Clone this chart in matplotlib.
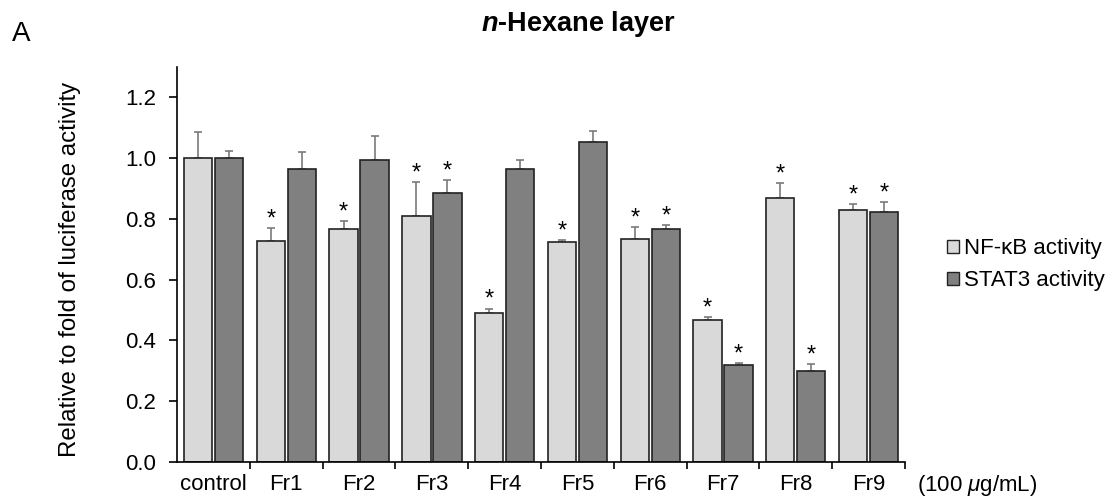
import numpy as np
import matplotlib.pyplot as plt
from matplotlib.patches import Patch

plt.rcParams['font.family'] = ['Liberation Sans', 'DejaVu Sans']
plt.rcParams['mathtext.fontset'] = 'custom'
plt.rcParams['mathtext.rm'] = 'Liberation Sans'
plt.rcParams['mathtext.it'] = 'Liberation Sans:italic'
plt.rcParams['mathtext.bf'] = 'Liberation Sans:bold'
plt.rcParams['mathtext.bfit'] = 'Liberation Sans:italic:bold'

# ── Data ──────────────────────────────────────────────────────────────────────
groups = ['control', 'Fr1', 'Fr2', 'Fr3', 'Fr4', 'Fr5', 'Fr6', 'Fr7', 'Fr8', 'Fr9']
nfkb = [1.00, 0.726, 0.766, 0.810, 0.491, 0.724, 0.734, 0.467, 0.870, 0.828]
nfkb_err = [0.086, 0.044, 0.028, 0.110, 0.014, 0.006, 0.039, 0.010, 0.047, 0.022]
stat3 = [1.00, 0.964, 0.995, 0.886, 0.963, 1.053, 0.766, 0.319, 0.301, 0.823]
stat3_err = [0.023, 0.055, 0.077, 0.043, 0.030, 0.037, 0.015, 0.008, 0.022, 0.033]
nfkb_sig = [False, True, True, True, True, True, True, True, True, True]
stat3_sig = [False, False, False, True, False, False, True, True, True, True]

# ── Plotting ──────────────────────────────────────────────────────────────────
fig = plt.figure(figsize=(11.07, 4.98), dpi=100)
ax = fig.add_axes([0.160, 0.0723, 0.6575, 0.7932])

x = np.arange(len(groups))
w = 0.39
off = 0.213
edge = '#222222'

ax.bar(x - off, nfkb, w, color='#d9d9d9', edgecolor=edge, linewidth=1.2, zorder=2)
ax.bar(x + off, stat3, w, color='#808080', edgecolor=edge, linewidth=1.2, zorder=2)

# upper error bars only
ax.errorbar(x - off, nfkb, yerr=[np.zeros(len(nfkb)), nfkb_err], fmt='none',
            ecolor='#7a7a7a', elinewidth=1.2, capsize=3, capthick=1.2, zorder=1)
ax.errorbar(x + off, stat3, yerr=[np.zeros(len(stat3)), stat3_err], fmt='none',
            ecolor='#7a7a7a', elinewidth=1.2, capsize=3, capthick=1.2, zorder=1)

for i in range(len(groups)):
    if nfkb_sig[i]:
        ax.text(x[i] - off, nfkb[i] + nfkb_err[i] - 0.008, '*', ha='center',
                va='bottom', fontsize=17)
    if stat3_sig[i]:
        ax.text(x[i] + off, stat3[i] + stat3_err[i] - 0.008, '*', ha='center',
                va='bottom', fontsize=17)

ax.set_xlim(-0.5, len(groups) - 0.5)
ax.set_ylim(0, 1.3)
ax.set_yticks(np.arange(0, 1.21, 0.2))
ax.set_yticklabels([f'{v:.1f}' for v in np.arange(0, 1.21, 0.2)])
ax.set_xticks(x)
ax.set_xticklabels(groups)
ax.set_xticks(np.arange(0.5, len(groups), 1.0), minor=True)
ax.tick_params(axis='x', which='major', length=0, labelsize=16, pad=9)
ax.tick_params(axis='x', which='minor', length=5, width=1.2, direction='out')
ax.tick_params(axis='y', length=6, width=1.2, direction='out', labelsize=16, pad=9)

for s in ['left', 'bottom']:
    ax.spines[s].set_linewidth(1.2)
ax.spines[['top', 'right']].set_visible(False)

ax.set_ylabel('Relative to fold of luciferase activity', fontsize=17.3)
ax.yaxis.set_label_coords(-0.132, 0.487)

fig.text(0.828, 0.026, r'(100 $\mathit{\mu}$g/mL)', fontsize=16, ha='left', va='center')

handles = [Patch(facecolor='#d9d9d9', edgecolor=edge, linewidth=1.0),
           Patch(facecolor='#808080', edgecolor=edge, linewidth=1.0)]
fig.legend(handles, ['NF-κB activity', 'STAT3 activity'], loc='center left',
           bbox_to_anchor=(0.837, 0.468), frameon=False, fontsize=16,
           handlelength=0.55, handleheight=0.55, handletextpad=0.25, labelspacing=0.5)

fig.text(0.5226, 0.952, r'$\mathbfit{n}$-Hexane layer', fontsize=19.5, fontweight='bold',
         ha='center', va='center')
fig.text(0.011, 0.931, 'A', fontsize=20, ha='left', va='center')

plt.savefig('out.png', dpi=100)
